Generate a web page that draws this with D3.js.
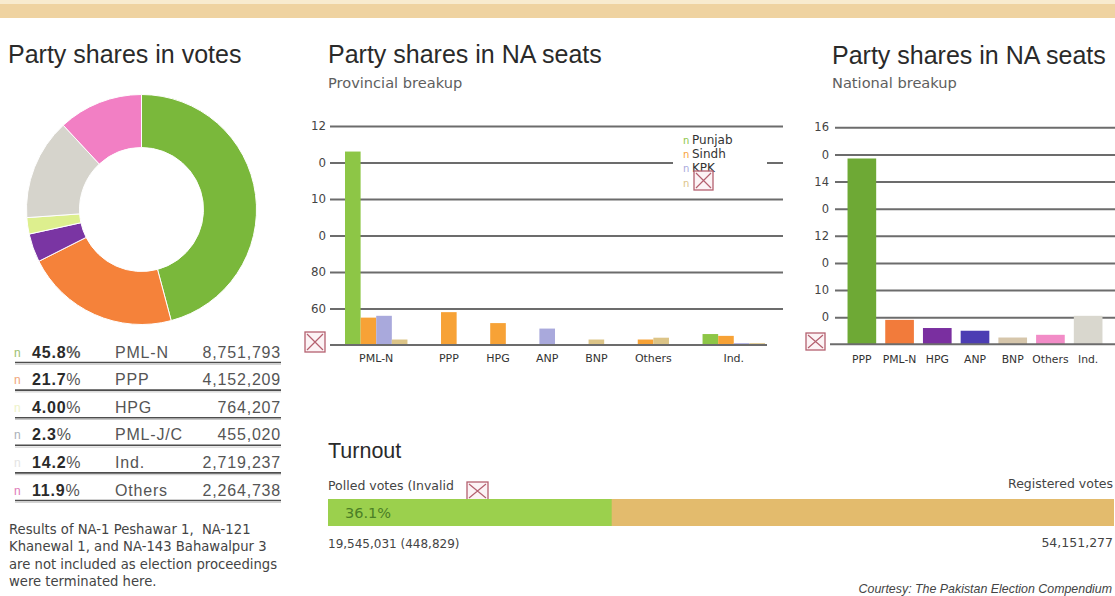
<!DOCTYPE html>
<html>
<head>
<meta charset="utf-8">
<script src="https://cdn.jsdelivr.net/npm/d3@7"></script>
<style>
  html, body { margin: 0; padding: 0; background: #fff; }
  svg { display: block; }
  text { white-space: pre; }
</style>
</head>
<body>
<svg id="chart" width="1115" height="596"></svg>
<script>
// ---- Party shares in votes ----
const voteParties   = ["PML-N", "PPP", "HPG", "PML-J/C", "Ind.", "Others"];
const voteShares    = [45.8, 21.7, 4.0, 2.3, 14.2, 11.9];
const voteShareText = ["45.8", "21.7", "4.00", "2.3", "14.2", "11.9"];
const voteCounts    = [8751793, 4152209, 764207, 455020, 2719237, 2264738];
const donutColors   = ["#7ab83b", "#f5823a", "#7a35a3", "#ddef8e", "#d6d4cc", "#f27fc4"];
const markerColors  = ["#9cc070", "#f0a67a", "#eef2c8", "#a9b0b8", "#e4e4e4", "#e07ab8"];
const footnoteLines = [
  "Results of NA-1 Peshawar 1,  NA-121",
  "Khanewal 1, and NA-143 Bahawalpur 3",
  "are not included as election proceedings",
  "were terminated here."
];

// ---- Party shares in NA seats, provincial breakup ----
const provCategories = ["PML-N", "PPP", "HPG", "ANP", "BNP", "Others", "Ind."];
const provinces      = ["Punjab", "Sindh", "KPK", null];
const seatsPunjab    = [106, 0, 0, 0, 0, 0, 6];
const seatsSindh     = [15, 18, 12, 0, 0, 3, 5];
const seatsKPK       = [16, 0, 0, 9, 0, 0, 1];
const seatsFourth    = [3, 0, 0, 0, 3, 4, 1];
const provColors     = ["#8dc646", "#f7a236", "#a9a9dc", "#dcc487"];
const provTickValues = [20, 40, 60, 80, 100, 120];
const provTickLabels = ["60", "80", "0", "10", "0", "12"];

// ---- Party shares in NA seats, national breakup ----
const natCategories = ["PPP", "PML-N", "HPG", "ANP", "BNP", "Others", "Ind."];
const natSeats      = [137, 18, 12, 10, 5, 7, 21];
const natColors     = ["#6ea935", "#f27b3b", "#7a2fa0", "#4c3db3", "#d6c6ab", "#f28cc7", "#d9d7ce"];
const natTickValues = [20, 40, 60, 80, 100, 120, 140, 160];
const natTickLabels = ["0", "10", "0", "12", "0", "14", "0", "16"];

// ---- Turnout ----
const polledVotes     = 19545031;
const invalidVotes    = 448829;
const registeredVotes = 54151277;

const TITLE_FONT = "'Liberation Sans', Arial, sans-serif";
const SMALL_FONT = "'DejaVu Sans', Verdana, sans-serif";
const fmt = d3.format(",");

const svg = d3.select("#chart");
svg.append("rect").attr("width", 1115).attr("height", 596).attr("fill", "#fff");

// top banner strip
svg.append("rect").attr("x", 0).attr("y", 0).attr("width", 1115).attr("height", 18).attr("fill", "#efd3a1");
svg.append("rect").attr("x", 0).attr("y", 0).attr("width", 1115).attr("height", 4).attr("fill", "#f8ebcf");

// broken-image placeholder glyph
function brokenIcon(g, x, y, w, h) {
  const ic = g.append("g").attr("transform", `translate(${x},${y})`);
  ic.append("rect").attr("width", w).attr("height", h)
    .attr("fill", "#fbf1f3").attr("fill-opacity", 0.85)
    .attr("stroke", "#b4606f").attr("stroke-width", 1.3);
  ic.append("path").attr("d", `M2,2L${w - 2},${h - 2}M${w - 2},2L2,${h - 2}`)
    .attr("stroke", "#b4606f").attr("stroke-width", 1.2).attr("fill", "none");
}

function title(x, y, txt, size) {
  svg.append("text").attr("x", x).attr("y", y)
    .attr("font-family", TITLE_FONT).attr("font-size", size)
    .attr("fill", "#2a2a2a").text(txt);
}
function subtitle(x, y, txt) {
  svg.append("text").attr("x", x).attr("y", y)
    .attr("font-family", SMALL_FONT).attr("font-size", 14.6)
    .attr("fill", "#5e5e5e").text(txt);
}

// ================= Donut =================
title(8, 63, "Party shares in votes", 25);

const pie = d3.pie().sort(null).value(d => d);
const arc = d3.arc().innerRadius(62).outerRadius(115);
const donut = svg.append("g").attr("transform", "translate(141.5,209.5)");
donut.selectAll("path")
  .data(pie(voteShares))
  .join("path")
  .attr("d", arc)
  .attr("fill", (d, i) => donutColors[i])
  .attr("stroke", "#fff").attr("stroke-width", 1);

// table under the donut
const rowY = d3.scaleLinear().domain([0, 1]).range([362.5, 390.1]);
const table = svg.append("g").attr("font-family", TITLE_FONT).attr("font-size", 16)
  .attr("letter-spacing", 0.8);
voteParties.forEach((p, i) => {
  const base = rowY(i);
  table.append("text").attr("x", 14).attr("y", base - 6)
    .attr("font-size", 12).attr("letter-spacing", 0)
    .attr("fill", markerColors[i]).text("n");
  const pct = table.append("text").attr("x", 32).attr("y", base - 5).attr("fill", "#2a2a2a");
  pct.append("tspan").attr("font-weight", "bold").text(voteShareText[i]);
  pct.append("tspan").attr("font-weight", i === 0 ? "bold" : "normal").attr("fill", "#555").text("%");
  table.append("text").attr("x", 115).attr("y", base - 5).attr("fill", "#555").text(p);
  table.append("text").attr("x", 281).attr("y", base - 5).attr("text-anchor", "end")
    .attr("fill", "#555").text(fmt(voteCounts[i]));
  table.append("line").attr("x1", 15).attr("x2", 281).attr("y1", base).attr("y2", base)
    .attr("stroke", "#4d4d4d").attr("stroke-width", 1.6);
  table.append("line").attr("x1", 15).attr("x2", 281).attr("y1", base + 1.8).attr("y2", base + 1.8)
    .attr("stroke", "#c8c8c8").attr("stroke-width", 1);
});

// footnote
const foot = svg.append("g").attr("font-family", SMALL_FONT).attr("font-size", 13.2).attr("fill", "#444");
footnoteLines.forEach((l, i) => {
  foot.append("text").attr("x", 9).attr("y", 534 + i * 17.4).text(l);
});

// ================= Provincial breakup =================
title(328, 63, "Party shares in NA seats", 25);
subtitle(328, 88, "Provincial breakup");

const provSeries = [seatsPunjab, seatsSindh, seatsKPK, seatsFourth];
const yProv = d3.scaleLinear().domain([0, 120]).range([345, 126]);

const provAxis = d3.axisLeft(yProv)
  .tickValues(provTickValues)
  .tickFormat((d, i) => provTickLabels[i])
  .tickSize(-(783 - 330))
  .tickPadding(4);
const pa = svg.append("g").attr("transform", "translate(330,0)").call(provAxis);
pa.select(".domain").remove();
pa.selectAll(".tick line").attr("stroke", "#6c6c6c").attr("stroke-width", 2);
pa.selectAll(".tick text").attr("font-family", SMALL_FONT).attr("font-size", 11.8).attr("fill", "#444");

// lay out only the non-zero bars of each category, one unit per bar, with gaps between categories
const GAP = 2.15;
const provBars = [];
const provCenters = [];
let cursor = 0;
provCategories.forEach((cat, ci) => {
  const start = cursor;
  provSeries.forEach((s, si) => {
    if (s[ci] > 0) {
      provBars.push({ cat, series: si, value: s[ci], pos: cursor });
      cursor += 1;
    }
  });
  provCenters.push({ cat, center: (start + cursor) / 2 });
  if (ci < provCategories.length - 1) cursor += GAP;
});
const xProv = d3.scaleLinear().domain([0, cursor]).range([345, 765]);
const unitW = xProv(1) - xProv(0);

svg.append("g").selectAll("rect")
  .data(provBars)
  .join("rect")
  .attr("x", d => xProv(d.pos))
  .attr("width", unitW)
  .attr("y", d => yProv(d.value))
  .attr("height", d => yProv(0) - yProv(d.value))
  .attr("fill", d => provColors[d.series]);

svg.append("line").attr("x1", 330).attr("x2", 767).attr("y1", yProv(0)).attr("y2", yProv(0))
  .attr("stroke", "#6c6c6c").attr("stroke-width", 2);

svg.append("g").selectAll("text")
  .data(provCenters)
  .join("text")
  .attr("x", d => xProv(d.center))
  .attr("y", 362)
  .attr("text-anchor", "middle")
  .attr("font-family", SMALL_FONT).attr("font-size", 11)
  .attr("fill", "#333")
  .text(d => d.cat);

brokenIcon(svg, 305, 332, 20, 20);

// legend
svg.append("rect").attr("x", 673).attr("y", 134).attr("width", 94).attr("height", 58).attr("fill", "#fff");
const legend = svg.append("g").attr("font-family", SMALL_FONT).attr("font-size", 12).attr("fill", "#333");
provinces.forEach((p, i) => {
  const y = 143.5 + i * 14.4;
  legend.append("text").attr("x", 683).attr("y", y).attr("font-size", 10)
    .attr("fill", provColors[i]).text("n");
  if (p) legend.append("text").attr("x", 692).attr("y", y).text(p);
});
brokenIcon(svg, 694, 171, 19, 19);

// ================= National breakup =================
title(832, 64, "Party shares in NA seats", 25);
subtitle(832, 88, "National breakup");

const yNat = d3.scaleLinear().domain([0, 160]).range([344.3, 127.3]);
const natAxis = d3.axisLeft(yNat)
  .tickValues(natTickValues)
  .tickFormat((d, i) => natTickLabels[i])
  .tickSize(-(1115 - 835))
  .tickPadding(6);
const na = svg.append("g").attr("transform", "translate(835,0)").call(natAxis);
na.select(".domain").remove();
na.selectAll(".tick line").attr("stroke", "#6c6c6c").attr("stroke-width", 2);
na.selectAll(".tick text").attr("font-family", SMALL_FONT).attr("font-size", 11.5).attr("fill", "#444");

const xNat = d3.scaleBand().domain(natCategories).range([843, 1107]).paddingInner(0.24).paddingOuter(0.12);
svg.append("g").selectAll("rect")
  .data(natSeats)
  .join("rect")
  .attr("x", (d, i) => xNat(natCategories[i]))
  .attr("width", xNat.bandwidth())
  .attr("y", d => yNat(d))
  .attr("height", d => yNat(0) - yNat(d))
  .attr("fill", (d, i) => natColors[i]);

svg.append("line").attr("x1", 830).attr("x2", 1115).attr("y1", yNat(0)).attr("y2", yNat(0))
  .attr("stroke", "#6c6c6c").attr("stroke-width", 2);

svg.append("g").selectAll("text")
  .data(natCategories)
  .join("text")
  .attr("x", d => xNat(d) + xNat.bandwidth() / 2)
  .attr("y", 363)
  .attr("text-anchor", "middle")
  .attr("font-family", SMALL_FONT).attr("font-size", 10.8)
  .attr("fill", "#333")
  .text(d => d);

brokenIcon(svg, 806, 333, 19, 17);

// ================= Turnout =================
title(328, 458, "Turnout", 21.5);
const tx = d3.scaleLinear().domain([0, registeredVotes]).range([328, 1114]);
const small = { family: SMALL_FONT, size: 12.5 };

svg.append("text").attr("x", 328).attr("y", 490)
  .attr("font-family", small.family).attr("font-size", small.size).attr("fill", "#444")
  .text("Polled votes (Invalid");
brokenIcon(svg, 467, 482, 21, 18);

svg.append("text").attr("x", 1113).attr("y", 488).attr("text-anchor", "end")
  .attr("font-family", small.family).attr("font-size", small.size).attr("fill", "#444")
  .text("Registered votes");

svg.append("rect").attr("x", tx(0)).attr("y", 499).attr("width", tx(registeredVotes) - tx(0)).attr("height", 27)
  .attr("fill", "#e3bb6d");
svg.append("rect").attr("x", tx(0)).attr("y", 499).attr("width", tx(polledVotes) - tx(0)).attr("height", 27)
  .attr("fill", "#9bd04d");
svg.append("text").attr("x", 345).attr("y", 518)
  .attr("font-family", SMALL_FONT).attr("font-size", 14.5).attr("fill", "#4b7f26")
  .text(d3.format(".1%")(polledVotes / registeredVotes));

svg.append("text").attr("x", 328).attr("y", 548)
  .attr("font-family", small.family).attr("font-size", 12).attr("fill", "#444")
  .text(`${fmt(polledVotes)} (${fmt(invalidVotes)})`);
svg.append("text").attr("x", 1113).attr("y", 547).attr("text-anchor", "end")
  .attr("font-family", small.family).attr("font-size", 12.5).attr("fill", "#444")
  .text(fmt(registeredVotes));

svg.append("text").attr("x", 1112).attr("y", 593).attr("text-anchor", "end")
  .attr("font-family", TITLE_FONT).attr("font-size", 12.4).attr("font-style", "italic").attr("fill", "#444")
  .text("Courtesy: The Pakistan Election Compendium");
</script>
</body>
</html>
